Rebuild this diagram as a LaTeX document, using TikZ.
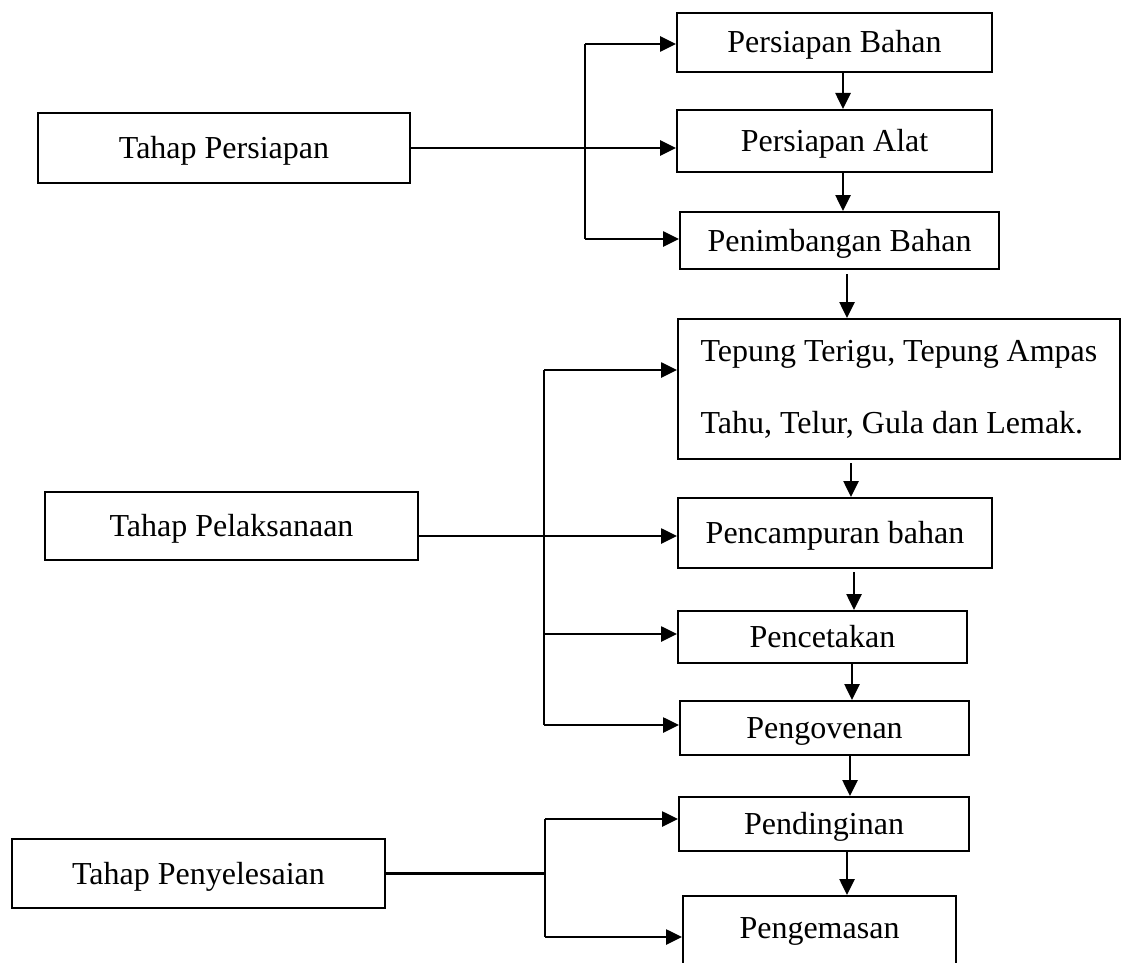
\documentclass[tikz,border=0pt]{standalone}
\usepackage{fontspec}
\setmainfont{Liberation Serif}
\usetikzlibrary{arrows.meta}
\begin{document}
\begin{tikzpicture}[x=1pt,y=-1pt,
  framebox/.style={draw=black, line width=2pt, rectangle, inner sep=0pt,
    font=\fontsize{32}{38}\selectfont},
  box/.style={framebox, text height=21pt, text depth=0pt},
  conn/.style={line width=2.6pt},
  arr/.style={conn, -{Triangle[length=16pt,width=15pt]}}]
\useasboundingbox (0,0) rectangle (1127,963);
\fill[white] (0,0) rectangle (1127,963);
\clip (0,0) rectangle (1127,963);

% stage boxes on the left
\node[box, minimum width=372pt, minimum height=70pt] (tp)  at (224,148)   {Tahap Persiapan};
\node[box, minimum width=373pt, minimum height=68pt] (tpl) at (231.5,526) {Tahap Pelaksanaan};
\node[box, minimum width=373pt, minimum height=69pt] (tpy) at (198.5,873.5) {Tahap Penyelesaian};

% preparation steps
\node[box, minimum width=315pt, minimum height=59pt] (pb)  at (834.5,42.5) {Persiapan Bahan};
\node[box, minimum width=315pt, minimum height=62pt] (pa)  at (834.5,141)  {Persiapan Alat};
\node[box, minimum width=319pt, minimum height=57pt] (pnb) at (839.5,240.5) {Penimbangan Bahan};

% execution steps
\node[framebox, minimum width=442pt, minimum height=140pt, align=left,
      font=\fontsize{32}{72}\selectfont] (tep) at (899,389)
      {Tepung Terigu, Tepung Ampas\\Tahu, Telur, Gula dan Lemak.};
\node[box, minimum width=314pt, minimum height=70pt] (pcm) at (835,533)   {Pencampuran bahan};
\node[box, minimum width=289pt, minimum height=52pt] (pct) at (822.5,637) {Pencetakan};
\node[box, minimum width=289pt, minimum height=54pt] (pov) at (824.5,728) {Pengovenan};

% finishing steps
\node[box, minimum width=290pt, minimum height=54pt] (pdn) at (824,824) {Pendinginan};
\node[box, minimum width=273pt, text height=42pt, text depth=78pt] (pgm) at (819.5,956) {Pengemasan};

% branch points
\coordinate (j1t) at (585,44);
\coordinate (j1b) at (585,239);
\coordinate (j2t) at (544,370);
\coordinate (j2m) at (544,536);
\coordinate (j2c) at (544,634);
\coordinate (j2b) at (544,725);
\coordinate (j3t) at (545,819);
\coordinate (j3b) at (545,937);

% preparation branch
\draw[conn] (j1t) -- (j1b);
\draw[arr] (j1t) -- (j1t -| pb.west);
\draw[arr] (tp.east) -- (tp.east -| pa.west);
\draw[arr] (j1b) -- (j1b -| pnb.west);

% execution branch
\draw[conn] (j2t) -- (j2b);
\draw[arr] (j2t) -- (j2t -| tep.west);
\draw[arr] (tpl.east |- j2m) -- (j2m -| pcm.west);
\draw[arr] (j2c) -- (j2c -| pct.west);
\draw[arr] (j2b) -- (j2b -| pov.west);

% finishing branch
\draw[conn] (j3t) -- (j3b);
\draw[conn] (tpy.east) -- (tpy.east -| j3t);
\draw[arr] (j3t) -- (j3t -| pdn.west);
\draw[arr] (j3b) -- (j3b -| pgm.west);

% main sequence
\draw[arr] (843,0 |- pb.south)  -- (843,0 |- pa.north);
\draw[arr] (843,0 |- pa.south)  -- (843,0 |- pnb.north);
\draw[arr] ([yshift=-4pt]847,0 |- pnb.south) -- (847,0 |- tep.north);
\draw[arr] ([yshift=-3pt]851,0 |- tep.south) -- (851,0 |- pcm.north);
\draw[arr] ([yshift=-3pt]854,0 |- pcm.south) -- (854,0 |- pct.north);
\draw[arr] (852,0 |- pct.south) -- (852,0 |- pov.north);
\draw[arr] (850,0 |- pov.south) -- (850,0 |- pdn.north);
\draw[arr] (847,0 |- pdn.south) -- (847,0 |- pgm.north);
\end{tikzpicture}
\end{document}
